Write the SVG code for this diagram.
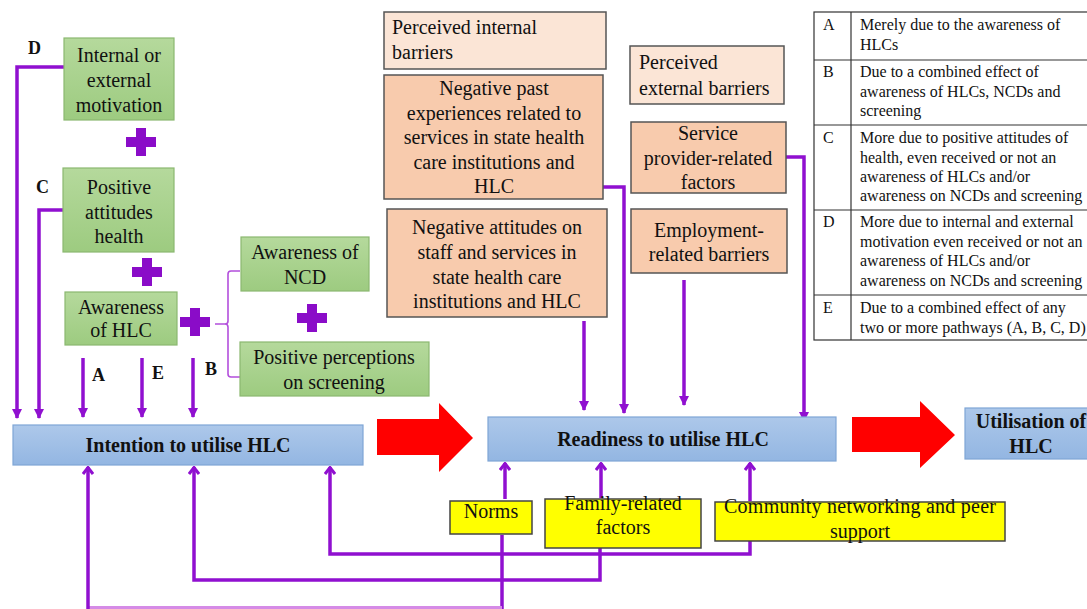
<svg xmlns="http://www.w3.org/2000/svg" width="1087" height="609" viewBox="0 0 1087 609" font-family="'Liberation Serif', 'DejaVu Serif', serif">
<defs>
<linearGradient id="gGreen" x1="0" y1="0" x2="0" y2="1"><stop offset="0" stop-color="#b5d99c"/><stop offset="1" stop-color="#9dcb80"/></linearGradient>
<linearGradient id="gBlue" x1="0" y1="0" x2="0" y2="1"><stop offset="0" stop-color="#adc8ea"/><stop offset="1" stop-color="#93b6e2"/></linearGradient>
<marker id="down" viewBox="0 0 10 10" refX="9" refY="5" markerWidth="10" markerHeight="10" markerUnits="userSpaceOnUse" orient="auto"><path d="M0,0 L10,5 L0,10 Z" fill="#9010d0"/></marker>
<marker id="chev" viewBox="0 0 12 10" refX="6" refY="1" markerWidth="12" markerHeight="10" markerUnits="userSpaceOnUse" orient="0"><path d="M1,8 L6,1.5 L11,8" fill="none" stroke="#9010d0" stroke-width="3"/></marker>
</defs>
<style>
.g{fill:url(#gGreen);stroke:#8bb870;stroke-width:1.2}
.b{fill:url(#gBlue);stroke:#7fa6d6;stroke-width:1.2}
.p1{fill:#fbe5d6;stroke:#555;stroke-width:1.5}
.p2{fill:#f8cbad;stroke:#555;stroke-width:1.5}
.y{fill:#ffff00;stroke:#444;stroke-width:1.5}
text{font-family:'Liberation Serif','DejaVu Serif',serif;fill:#111}
.t{font-size:20px;text-anchor:middle}
.tl{font-size:20px}
.bd{font-size:20px;font-weight:bold;text-anchor:middle}
.lab{font-size:18px;font-weight:bold}
.tb{font-size:16px}
.c{fill:none;stroke:#9010d0;stroke-width:3.5}
.plus{fill:#8a0cc8}
.red{fill:#ff0000}
</style>

<g id="legend-table">
<rect x="814" y="12" width="280" height="328" fill="#fff" stroke="#333" stroke-width="1.2"/>
<line x1="851" y1="12" x2="851" y2="340" stroke="#333" stroke-width="1.2"/>
<line x1="814" y1="60" x2="1087" y2="60" stroke="#333" stroke-width="1.2"/>
<line x1="814" y1="125" x2="1087" y2="125" stroke="#333" stroke-width="1.2"/>
<line x1="814" y1="210" x2="1087" y2="210" stroke="#333" stroke-width="1.2"/>
<line x1="814" y1="295" x2="1087" y2="295" stroke="#333" stroke-width="1.2"/>
<text class="tb" x="823" y="30">A</text>
<text class="tb" x="860" y="30">Merely  due to the awareness of</text>
<text class="tb" x="860" y="50">HLCs</text>
<text class="tb" x="823" y="77">B</text>
<text class="tb" x="860" y="77">Due to a combined effect of</text>
<text class="tb" x="860" y="97">awareness of HLCs, NCDs and</text>
<text class="tb" x="860" y="116">screening</text>
<text class="tb" x="823" y="143">C</text>
<text class="tb" x="860" y="143">More due to positive attitudes of</text>
<text class="tb" x="860" y="163">health, even received or not an</text>
<text class="tb" x="860" y="182">awareness of HLCs and/or</text>
<text class="tb" x="860" y="201">awareness on NCDs and screening</text>
<text class="tb" x="823" y="227">D</text>
<text class="tb" x="860" y="227">More due to internal  and external</text>
<text class="tb" x="860" y="247">motivation even received or not an</text>
<text class="tb" x="860" y="266">awareness of HLCs and/or</text>
<text class="tb" x="860" y="286">awareness on NCDs and screening</text>
<text class="tb" x="823" y="313">E</text>
<text class="tb" x="860" y="313">Due to a combined effect of any</text>
<text class="tb" x="860" y="333">two or more pathways (A, B, C, D)</text>
</g>

<g id="connectors">
<path class="c" d="M64,67 H17 V418" marker-end="url(#down)"/>
<path class="c" d="M63,210 H39 V418" marker-end="url(#down)"/>
<path class="c" d="M83,358 V417" marker-end="url(#down)"/>
<path class="c" d="M142,358 V417" marker-end="url(#down)"/>
<path class="c" d="M193,358 V417" marker-end="url(#down)"/>
<path d="M215,324 H225 M240,271 H231 Q228,271 228,274 V321 Q228,324 225,324 Q228,324 228,327 V374 Q228,377 231,377 H240" fill="none" stroke="#b34fdc" stroke-width="1.6"/>
<path class="c" d="M603,187 H624 V413" marker-end="url(#down)"/>
<path class="c" d="M786,157 H804 V421" marker-end="url(#down)"/>
<path class="c" d="M584,321 V410" marker-end="url(#down)"/>
<path class="c" d="M684,280 V405" marker-end="url(#down)"/>
<path class="c" d="M505,499 V463" marker-end="url(#chev)"/>
<path class="c" d="M601,498 V463" marker-end="url(#chev)"/>
<path class="c" d="M750,501 V463" marker-end="url(#chev)"/>
<path class="c" d="M750,541 V554 H330 V467" marker-end="url(#chev)"/>
<path class="c" d="M600,548 V580 H194 V467" marker-end="url(#chev)"/>
<path class="c" d="M502,535 V609"/>
<path d="M502,607.5 H88" fill="none" stroke="#d58be6" stroke-width="3"/>
<path class="c" d="M88,609 V467" marker-end="url(#chev)"/>
</g>

<g id="plus-signs">
<path class="plus" d="M136,128 h10 v9 h10 v10 h-10 v9 h-10 v-9 h-10 v-10 h10 z"/>
<path class="plus" d="M142,258 h10 v9 h10 v10 h-10 v9 h-10 v-9 h-10 v-10 h10 z"/>
<path class="plus" d="M190,308 h10 v9 h10 v10 h-10 v9 h-10 v-9 h-10 v-10 h10 z"/>
<path class="plus" d="M307,304 h10 v9 h10 v10 h-10 v9 h-10 v-9 h-10 v-10 h10 z"/>
</g>

<g id="labels">
<text class="lab" x="28" y="54">D</text>
<text class="lab" x="36" y="193">C</text>
<text class="lab" x="92" y="381">A</text>
<text class="lab" x="152" y="379">E</text>
<text class="lab" x="205" y="375">B</text>
</g>

<g id="n-motivation">
<rect class="g" x="64" y="38" width="110" height="82"/>
<text class="t" x="119" y="62">Internal or</text>
<text class="t" x="119" y="87">external</text>
<text class="t" x="119" y="112">motivation</text>
</g>
<g id="n-attitudes">
<rect class="g" x="63" y="168" width="111" height="84"/>
<text class="t" x="119" y="194">Positive</text>
<text class="t" x="119" y="219">attitudes</text>
<text class="t" x="119" y="243">health</text>
</g>
<g id="n-awareness-hlc">
<rect class="g" x="65" y="292" width="112" height="53"/>
<text class="t" x="121" y="314">Awareness</text>
<text class="t" x="121" y="337">of HLC</text>
</g>
<g id="n-awareness-ncd">
<rect class="g" x="241" y="237" width="128" height="54"/>
<text class="t" x="305" y="259">Awareness of</text>
<text class="t" x="305" y="284">NCD</text>
</g>
<g id="n-screening">
<rect class="g" x="240" y="342" width="189" height="54"/>
<text class="t" x="334" y="364">Positive perceptions</text>
<text class="t" x="334" y="389">on screening</text>
</g>

<g id="n-intention">
<rect class="b" x="13" y="425" width="350" height="40"/>
<text class="bd" x="188" y="452">Intention to utilise HLC</text>
</g>
<g id="arrow-1">
<path class="red" d="M377,419 H439 V403 L473,438 L439,472 V455 H377 Z"/>
</g>
<g id="n-readiness">
<rect class="b" x="488" y="417" width="348" height="44"/>
<text class="bd" x="663" y="446">Readiness to utilise HLC</text>
</g>
<g id="arrow-2">
<path class="red" d="M852,417 H920 V401 L955,435 L920,468 V452 H852 Z"/>
</g>
<g id="n-utilisation">
<rect class="b" x="965" y="408" width="140" height="51"/>
<text class="bd" x="1031" y="428">Utilisation of</text>
<text class="bd" x="1031" y="453">HLC</text>
</g>

<g id="n-internal-barriers">
<rect class="p1" x="384" y="12" width="222" height="57"/>
<text class="tl" x="392" y="34">Perceived internal</text>
<text class="tl" x="392" y="59">barriers</text>
</g>
<g id="n-past-experiences">
<rect class="p2" x="384" y="75" width="219" height="124"/>
<text class="t" x="494" y="95">Negative past</text>
<text class="t" x="494" y="120">experiences related to</text>
<text class="t" x="494" y="144">services in state health</text>
<text class="t" x="494" y="169">care institutions  and</text>
<text class="t" x="494" y="193">HLC</text>
</g>
<g id="n-negative-attitudes">
<rect class="p2" x="387" y="209" width="220" height="108"/>
<text class="t" x="497" y="234">Negative attitudes on</text>
<text class="t" x="497" y="259">staff and services in</text>
<text class="t" x="497" y="284">state health care</text>
<text class="t" x="497" y="308">institutions  and HLC</text>
</g>
<g id="n-external-barriers">
<rect class="p1" x="630" y="46" width="154" height="58"/>
<text class="tl" x="639" y="69">Perceived</text>
<text class="tl" x="639" y="95">external barriers</text>
</g>
<g id="n-service-provider">
<rect class="p2" x="631" y="122" width="155" height="71"/>
<text class="t" x="708" y="140">Service</text>
<text class="t" x="708" y="165">provider-related</text>
<text class="t" x="708" y="189">factors</text>
</g>
<g id="n-employment">
<rect class="p2" x="631" y="209" width="156" height="64"/>
<text class="t" x="709" y="237">Employment-</text>
<text class="t" x="709" y="261">related barriers</text>
</g>

<g id="n-norms">
<rect class="y" x="450" y="501" width="82" height="33"/>
<text class="t" x="491" y="518">Norms</text>
</g>
<g id="n-family">
<rect class="y" x="545" y="499" width="156" height="49"/>
<text class="t" x="623" y="510">Family-related</text>
<text class="t" x="623" y="534">factors</text>
</g>
<g id="n-community">
<rect class="y" x="715" y="502" width="290" height="39"/>
<text class="t" x="860" y="513" textLength="272" lengthAdjust="spacing">Community networking and peer</text>
<text class="t" x="860" y="538">support</text>
</g>
</svg>
